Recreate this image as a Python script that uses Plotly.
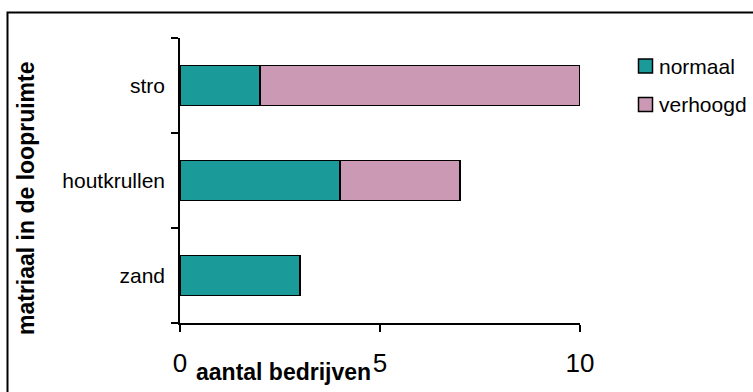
import plotly.graph_objects as go

# Materials in the walking area and number of farms per level
categories = ["zand", "houtkrullen", "stro"]
normaal = [3, 4, 2]
verhoogd = [0, 3, 8]
x_ticks = [0, 5, 10]
series_names = ["normaal", "verhoogd"]

TEAL = "#1b9a9a"
PINK = "#cc99b4"
FONT = "Liberation Sans, Arial, sans-serif"
colors = [TEAL, PINK]

fig = go.Figure()
for name, vals, col in zip(series_names, [normaal, verhoogd], colors):
    fig.add_trace(go.Bar(
        y=categories, x=vals, name=name, orientation="h",
        marker=dict(color=col, line=dict(color="black", width=1.5)),
    ))

W, H = 753, 392
L, R, T, B = 180, 173, 38, 69
pw, ph = W - L - R, H - T - B


def px(xp):
    return (xp - L) / pw


def py(yp):
    return (H - B - yp) / ph


# Legend drawn as boxes and labels to the right of the plot
legend_shapes, legend_notes = [], []
for i, (name, col) in enumerate(zip(series_names, colors)):
    cy = 66 + i * 38.5
    legend_shapes.append(dict(
        type="rect", xref="paper", yref="paper",
        x0=px(638.5), x1=px(652.5), y0=py(cy + 7), y1=py(cy - 7),
        fillcolor=col, line=dict(color="black", width=1.5),
    ))
    legend_notes.append(dict(
        text=name, xref="paper", yref="paper",
        x=px(657), y=py(cy), xanchor="left", yanchor="middle",
        showarrow=False, font=dict(size=21, family=FONT, color="black"),
    ))

fig.update_layout(
    width=W, height=H,
    margin=dict(l=L, r=R, t=T, b=B),
    paper_bgcolor="white", plot_bgcolor="white",
    barmode="stack", bargap=0.58,
    font=dict(family=FONT, color="black"),
    showlegend=False,
    xaxis=dict(
        range=[0, 10], tickvals=x_ticks, ticktext=[str(v) for v in x_ticks],
        showline=True, linecolor="black", linewidth=1.5,
        ticks="outside", ticklen=7, tickwidth=1.5, tickcolor="black",
        showgrid=False, zeroline=False,
        tickfont=dict(size=26, family=FONT, color="black"),
        ticklabelstandoff=9,
    ),
    yaxis=dict(
        categoryorder="array", categoryarray=categories,
        range=[-0.5, 2.5],
        showline=True, linecolor="black", linewidth=1.5,
        ticks="outside", ticklen=7, tickwidth=1.5, tickcolor="black",
        tickson="boundaries",
        showgrid=False, zeroline=False,
        tickfont=dict(size=21, family=FONT, color="black"),
        ticklabelstandoff=9,
    ),
    annotations=[
        dict(text="<b>aantal bedrijven</b>", xref="paper", yref="paper",
             x=px(283.5), y=py(372), xanchor="center", yanchor="middle",
             showarrow=False, font=dict(size=23, family=FONT, color="black")),
        dict(text="<b>matriaal in de loopruimte</b>", xref="paper", yref="paper",
             x=px(26), y=py(198), xanchor="center", yanchor="middle",
             textangle=-90, showarrow=False,
             font=dict(size=23, family=FONT, color="black")),
    ] + legend_notes,
    shapes=[
        dict(type="rect", xref="paper", yref="paper",
             x0=px(7.5), y0=py(H + 20), x1=px(W + 20), y1=py(12.5),
             line=dict(color="black", width=2), fillcolor="rgba(0,0,0,0)",
             layer="below"),
    ] + legend_shapes,
)

fig.write_html("out.html")
